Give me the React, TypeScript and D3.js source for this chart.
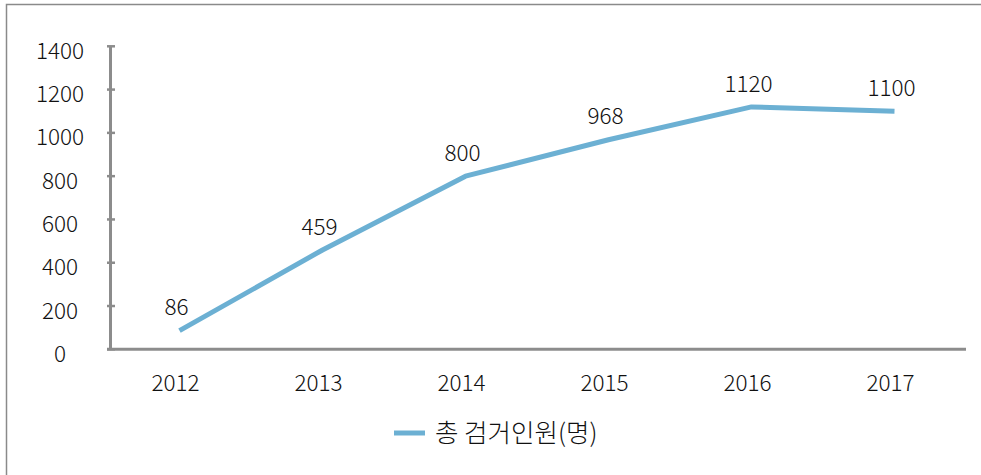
import React from "react";
import * as d3 from "d3";

const years = ["2012", "2013", "2014", "2015", "2016", "2017"];
const arrests = [86, 459, 800, 968, 1120, 1100];
const yTicks = [0, 200, 400, 600, 800, 1000, 1200, 1400];
const seriesName = "총 검거인원(명)";

export default function App() {
  const W = 981, H = 475;
  const left = 108, right = 966, top = 46.3, bottom = 349.3;
  const x = d3.scaleBand<string>().domain(years).range([left, right]);
  const y = d3.scaleLinear().domain([0, 1400]).range([bottom, top]);
  const cx = (d: string) => (x(d) as number) + x.bandwidth() / 2;
  const line = d3.line<number>().x((_, i) => cx(years[i])).y((v) => y(v));
  const font = "'Noto Sans CJK KR', 'Noto Sans', sans-serif";
  const axisColor = "#8c8c8c";
  const lineColor = "#6cb0d3";
  const fs = 22.5;
  return (
    <svg width={W} height={H} style={{ position: "absolute", left: 0, top: 0 }} fontFamily={font} fontWeight={300}>
      <rect x={0} y={0} width={W} height={H} fill="#fff" />
      <rect x={6.5} y={4.5} width={W + 10} height={H + 10} fill="none" stroke="#8a8a8a" strokeWidth={1.5} />
      {/* y axis */}
      <line x1={110.5} x2={110.5} y1={y(1400)} y2={bottom} stroke={axisColor} strokeWidth={3} />
      {yTicks.map((t) => (
        <g key={t}>
          <line x1={107} x2={115} y1={y(t)} y2={y(t)} stroke={axisColor} strokeWidth={2.5} />
          <text x={60} y={y(t) + 4.5} dy="0.36em" textAnchor="middle" fontSize={fs} fill="#111">{t}</text>
        </g>
      ))}
      {/* x axis */}
      <line x1={107} x2={right} y1={bottom} y2={bottom} stroke={axisColor} strokeWidth={3} />
      {years.map((yr) => (
        <text key={yr} x={cx(yr) - 4} y={383} dy="0.36em" textAnchor="middle" fontSize={fs} fill="#111">{yr}</text>
      ))}
      <path d={line(arrests) as string} fill="none" stroke={lineColor} strokeWidth={5} strokeLinejoin="round" />
      {arrests.map((v, i) => (
        <text key={i} x={cx(years[i]) - 3} y={y(v) - 23.5} dy="0.36em" textAnchor="middle" fontSize={fs} fill="#111">{v}</text>
      ))}
      {/* legend */}
      <line x1={394} x2={425} y1={433} y2={433} stroke={lineColor} strokeWidth={5} />
      <text x={435} y={433} dy="0.36em" fontSize={25.5} fill="#111">{seriesName}</text>
    </svg>
  );
}
